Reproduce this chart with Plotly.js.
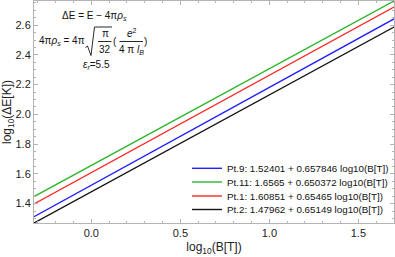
<!DOCTYPE html>
<html>
<head>
<meta charset="utf-8">
<script src="https://cdn.plot.ly/plotly-3.0.1.min.js"></script>
<style>html,body{margin:0;padding:0;background:#fff;}#chart{width:395px;height:257px;}</style>
</head>
<body>
<div id="chart"></div>
<script>
// Data (line end points at the plot's x limits)
var xEnds = [-0.322, 1.70];
var seriesNames = [
  "Pt.9: 1.52401 + 0.657846 log10(B[T])",
  "Pt.11: 1.6565 + 0.650372 log10(B[T])",
  "Pt.1: 1.60851 + 0.65465 log10(B[T])",
  "Pt.2: 1.47962 + 0.65149 log10(B[T])"
];
var pt9 = [1.31218, 2.64235];
var pt11 = [1.44708, 2.76213];
var pt1 = [1.39771, 2.72142];
var pt2 = [1.26984, 2.58715];
var seriesValues = [pt9, pt11, pt1, pt2];
var seriesColors = ["#1f1fff", "#2fb62f", "#ff2424", "#141414"];

var xTickVals = [0.0, 0.5, 1.0, 1.5];
var xTickText = ["0.0", "0.5", "1.0", "1.5"];
var yTickVals = [1.4, 1.6, 1.8, 2.0, 2.2, 2.4, 2.6];
var yTickText = ["1.4", "1.6", "1.8", "2.0", "2.2", "2.4", "2.6"];

// layout helpers (pixel -> paper)
var M = {l: 34, r: 1, t: 1, b: 34};
var W = 395 - M.l - M.r, H = 257 - M.t - M.b;
function px(x) { return (x - M.l) / W; }
function py(y) { return (257 - M.b - y) / H; }

var traces = seriesValues.map(function (v, i) {
  return {
    x: xEnds, y: v, type: "scatter", mode: "lines", name: seriesNames[i],
    line: {color: seriesColors[i], width: 1.4}, showlegend: false, hoverinfo: "skip"
  };
});

var FONT = "Liberation Sans, Arial, Helvetica, sans-serif";
var ann = [];
var shapes = [];
function txt(text, x, y, size, anchor) {
  ann.push({text: text, xref: "paper", yref: "paper", x: px(x), y: py(y),
    xanchor: anchor || "center", yanchor: "middle", showarrow: false,
    font: {family: FONT, size: size || 10, color: "#111"}});
}
function hline(x0, x1, y, color, w) {
  shapes.push({type: "line", xref: "paper", yref: "paper",
    x0: px(x0), x1: px(x1), y0: py(y), y1: py(y),
    line: {color: color || "#111", width: w || 0.9}});
}

// formula annotations
txt("ΔE = E − 4π<i>ρ</i><sub><i>s</i></sub>", 94, 16, 10);
txt("4π<i>ρ</i><sub><i>s</i></sub> = 4π", 87, 41, 10, "right");
var rad = [[85.5, 47.5], [87.5, 46], [91, 55.5], [94.5, 27], [112, 27]];
var path = rad.map(function (p, i) { return (i ? "L" : "M") + px(p[0]).toFixed(5) + "," + py(p[1]).toFixed(5); }).join(" ");
shapes.push({type: "path", xref: "paper", yref: "paper", path: path, line: {color: "#111", width: 0.9}});
txt("π", 105, 33.5, 10);
hline(98, 111.5, 41.5);
txt("32", 105, 49.5, 10);
txt("(", 115, 41, 10);
txt("<i>e</i><sup>2</sup>", 131.5, 33, 10);
hline(119.5, 143, 41.5);
txt("4 π <i>l</i><sub><i>B</i></sub>", 131.5, 49.5, 10);
txt(")", 145.5, 41, 10);
txt("<i>ε</i><sub><i>r</i></sub>=5.5", 96, 64.5, 10);

// manual legend
var legRows = [168.3, 182, 196, 209.5];
seriesNames.forEach(function (n, i) {
  hline(192, 222, legRows[i], seriesColors[i], 1.4);
  txt(n, 225, legRows[i], 9.8, "left");
});

var axisCommon = {
  showline: true, mirror: "allticks", linecolor: "#b4b4b4", linewidth: 1,
  ticks: "inside", ticklen: 4, tickcolor: "#b4b4b4", tickwidth: 1,
  showgrid: false, zeroline: false,
  tickfont: {family: FONT, size: 11, color: "#222"}
};

var layout = {
  width: 395, height: 257,
  margin: M,
  paper_bgcolor: "#fff", plot_bgcolor: "#fff",
  showlegend: false,
  xaxis: Object.assign({}, axisCommon, {
    range: [-0.322, 1.70], tickvals: xTickVals, ticktext: xTickText,
    minor: {dtick: 0.1, tick0: 0, ticks: "inside", ticklen: 2, tickcolor: "#b4b4b4", showgrid: false},
    title: {text: "log<sub>10</sub>(B[T])", font: {family: FONT, size: 12, color: "#222"}, standoff: 4}
  }),
  yaxis: Object.assign({}, axisCommon, {
    range: [1.2698, 2.7622], tickvals: yTickVals, ticktext: yTickText,
    minor: {dtick: 0.05, tick0: 0, ticks: "inside", ticklen: 2, tickcolor: "#b4b4b4", showgrid: false},
    title: {text: "log<sub>10</sub>(ΔE[K])", font: {family: FONT, size: 12, color: "#222"}, standoff: 4}
  }),
  annotations: ann,
  shapes: shapes
};

Plotly.newPlot("chart", traces, layout, {displayModeBar: false, staticPlot: true});
</script>
</body>
</html>
